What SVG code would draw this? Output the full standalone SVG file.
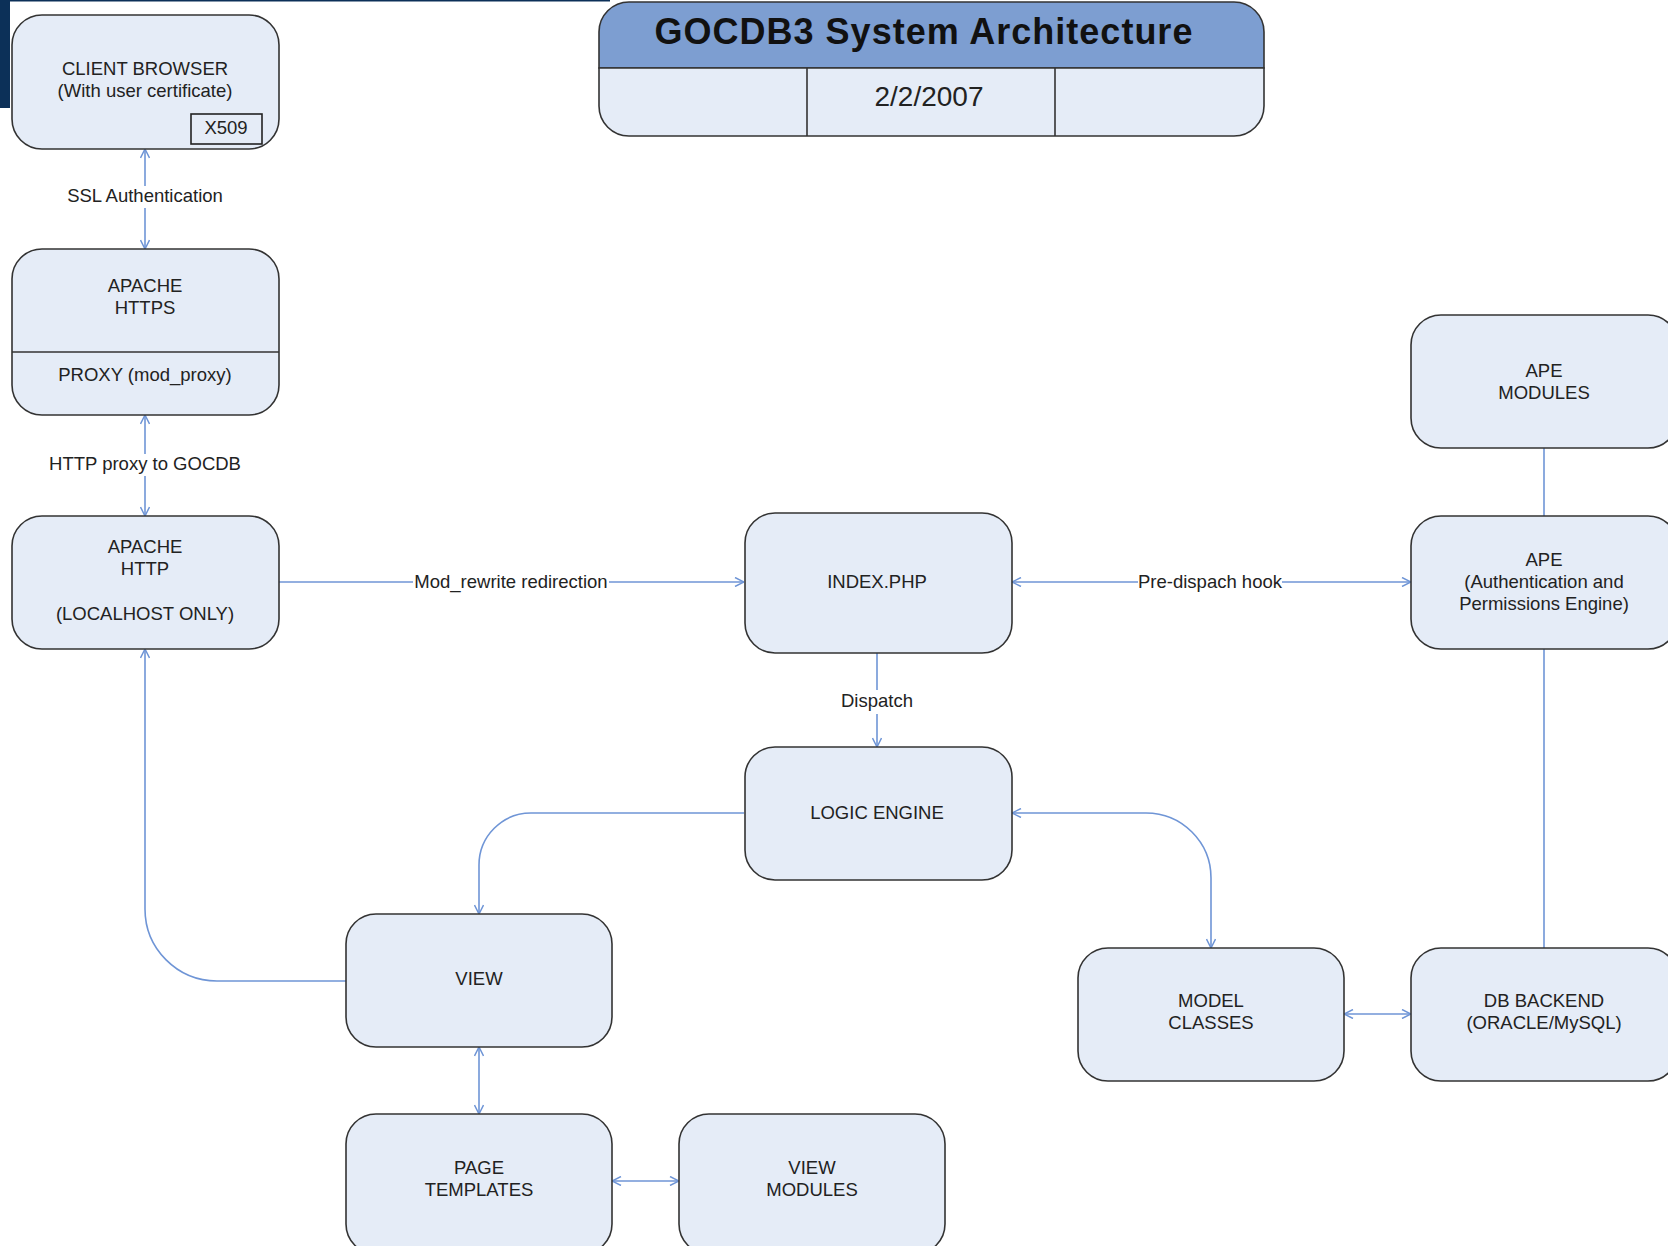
<svg xmlns="http://www.w3.org/2000/svg" width="1668" height="1246" viewBox="0 0 1668 1246">
<defs>
<style>
.box{fill:#e5ecf7;stroke:#333;stroke-width:1.6}
.t{font-family:"Liberation Sans",Arial,sans-serif;font-size:18.5px;fill:#222;text-anchor:middle}
.c{fill:none;stroke:#6f95d6;stroke-width:1.6}
.lbl{fill:#fff}
</style>
<marker id="ah" viewBox="0 0 10 10" refX="10" refY="5" markerWidth="10" markerHeight="10" markerUnits="userSpaceOnUse" orient="auto-start-reverse">
<path d="M1,0.5 L10,5 L1,9.5" fill="none" stroke="#6f95d6" stroke-width="1.5"/>
</marker>
</defs>
<rect x="0" y="0" width="1668" height="1246" fill="#fff"/>
<rect x="0" y="0" width="10" height="108" fill="#0c3058"/>
<rect x="0" y="0" width="610" height="1.5" fill="#0c3058"/>

<g id="connectors">
<path class="c" d="M145,149 L145,249" marker-start="url(#ah)" marker-end="url(#ah)"/>
<path class="c" d="M145,415 L145,516" marker-start="url(#ah)" marker-end="url(#ah)"/>
<path class="c" d="M279,582 L744,582" marker-end="url(#ah)"/>
<path class="c" d="M1012,582 L1411,582" marker-start="url(#ah)" marker-end="url(#ah)"/>
<path class="c" d="M877,653 L877,747" marker-end="url(#ah)"/>
<path class="c" d="M744,813 L531,813 A52,52 0 0 0 479,865 L479,914" marker-end="url(#ah)"/>
<path class="c" d="M1012,813 L1146,813 A65,65 0 0 1 1211,878 L1211,948" marker-start="url(#ah)" marker-end="url(#ah)"/>
<path class="c" d="M346,981 L217,981 A72,72 0 0 1 145,909 L145,649" marker-end="url(#ah)"/>
<path class="c" d="M1544,448 L1544,516"/>
<path class="c" d="M1544,649 L1544,948"/>
<path class="c" d="M1344,1014 L1411,1014" marker-start="url(#ah)" marker-end="url(#ah)"/>
<path class="c" d="M479,1047 L479,1114" marker-start="url(#ah)" marker-end="url(#ah)"/>
<path class="c" d="M612,1181 L679,1181" marker-start="url(#ah)" marker-end="url(#ah)"/>
<rect class="lbl" x="60" y="186" width="170" height="22"/>
<text class="t" x="145" y="202">SSL Authentication</text>
<rect class="lbl" x="42" y="454" width="206" height="22"/>
<text class="t" x="145" y="470">HTTP proxy to GOCDB</text>
<rect class="lbl" x="413" y="571" width="196" height="22"/>
<text class="t" x="511" y="588">Mod_rewrite redirection</text>
<rect class="lbl" x="1138" y="571" width="144" height="22"/>
<text class="t" x="1210" y="588">Pre-dispach hook</text>
<rect class="lbl" x="838" y="690" width="78" height="24"/>
<text class="t" x="877" y="707">Dispatch</text>
</g>

<g id="title">
<path d="M629,2 L1234,2 A30,30 0 0 1 1264,32 L1264,68 L599,68 L599,32 A30,30 0 0 1 629,2 Z" fill="#7d9ed1" stroke="#333" stroke-width="1.6"/>
<path d="M599,68 L1264,68 L1264,106 A30,30 0 0 1 1234,136 L629,136 A30,30 0 0 1 599,106 Z" class="box"/>
<line x1="807" y1="68" x2="807" y2="136" stroke="#333" stroke-width="1.6"/>
<line x1="1055" y1="68" x2="1055" y2="136" stroke="#333" stroke-width="1.6"/>
<text x="924" y="44" font-family="Liberation Sans,Arial,sans-serif" font-size="36" font-weight="bold" letter-spacing="1" text-anchor="middle" fill="#111">GOCDB3 System Architecture</text>
<text x="929" y="106" font-family="Liberation Sans,Arial,sans-serif" font-size="28" text-anchor="middle" fill="#222">2/2/2007</text>
</g>

<g id="client-browser">
<rect class="box" x="12" y="15" width="267" height="134" rx="30"/>
<rect x="191" y="114" width="71" height="30" fill="none" stroke="#222" stroke-width="1.6"/>
<text class="t" x="145" y="75">CLIENT BROWSER</text>
<text class="t" x="145" y="97">(With user certificate)</text>
<text class="t" x="226" y="134">X509</text>
</g>

<g id="apache-https">
<rect class="box" x="12" y="249" width="267" height="166" rx="30"/>
<line x1="12" y1="352" x2="279" y2="352" stroke="#333" stroke-width="1.6"/>
<text class="t" x="145" y="292">APACHE</text>
<text class="t" x="145" y="314">HTTPS</text>
<text class="t" x="145" y="381">PROXY (mod_proxy)</text>
</g>

<g id="apache-http">
<rect class="box" x="12" y="516" width="267" height="133" rx="30"/>
<text class="t" x="145" y="553">APACHE</text>
<text class="t" x="145" y="575">HTTP</text>
<text class="t" x="145" y="620">(LOCALHOST ONLY)</text>
</g>

<g id="index-php">
<rect class="box" x="745" y="513" width="267" height="140" rx="30"/>
<text class="t" x="877" y="588">INDEX.PHP</text>
</g>

<g id="logic-engine">
<rect class="box" x="745" y="747" width="267" height="133" rx="30"/>
<text class="t" x="877" y="819">LOGIC ENGINE</text>
</g>

<g id="ape-modules">
<rect class="box" x="1411" y="315" width="267" height="133" rx="30"/>
<text class="t" x="1544" y="377">APE</text>
<text class="t" x="1544" y="399">MODULES</text>
</g>

<g id="ape">
<rect class="box" x="1411" y="516" width="267" height="133" rx="30"/>
<text class="t" x="1544" y="566">APE</text>
<text class="t" x="1544" y="588">(Authentication and</text>
<text class="t" x="1544" y="610">Permissions Engine)</text>
</g>

<g id="model-classes">
<rect class="box" x="1078" y="948" width="266" height="133" rx="30"/>
<text class="t" x="1211" y="1007">MODEL</text>
<text class="t" x="1211" y="1029">CLASSES</text>
</g>

<g id="db-backend">
<rect class="box" x="1411" y="948" width="267" height="133" rx="30"/>
<text class="t" x="1544" y="1007">DB BACKEND</text>
<text class="t" x="1544" y="1029">(ORACLE/MySQL)</text>
</g>

<g id="view">
<rect class="box" x="346" y="914" width="266" height="133" rx="30"/>
<text class="t" x="479" y="985">VIEW</text>
</g>

<g id="page-templates">
<rect class="box" x="346" y="1114" width="266" height="140" rx="30"/>
<text class="t" x="479" y="1174">PAGE</text>
<text class="t" x="479" y="1196">TEMPLATES</text>
</g>

<g id="view-modules">
<rect class="box" x="679" y="1114" width="266" height="140" rx="30"/>
<text class="t" x="812" y="1174">VIEW</text>
<text class="t" x="812" y="1196">MODULES</text>
</g>
</svg>
